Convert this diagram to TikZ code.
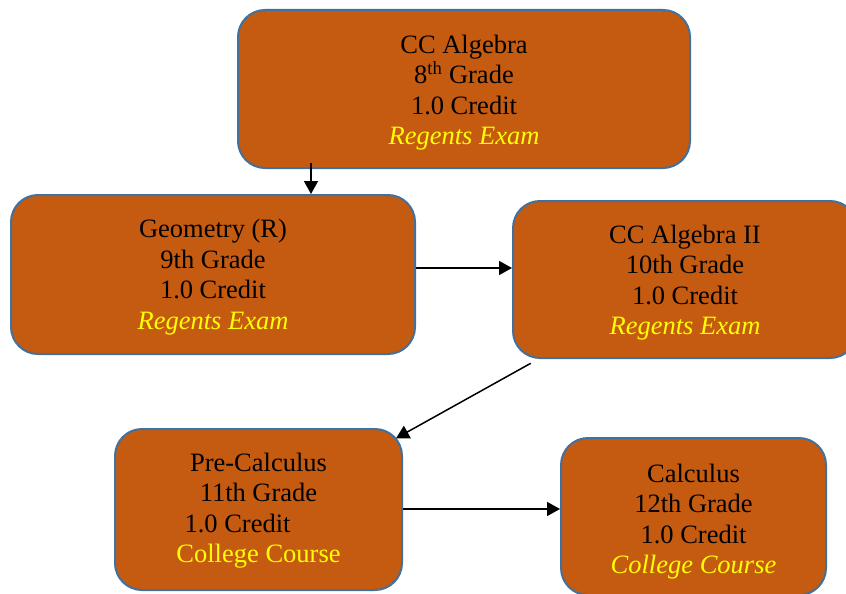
\documentclass[tikz,border=0pt]{standalone}
\usepackage{fontspec}
\setmainfont{Liberation Serif}
\usetikzlibrary{arrows.meta,calc}
\definecolor{boxfill}{HTML}{C55A11}
\definecolor{boxline}{HTML}{41719C}
\definecolor{examyellow}{HTML}{FFFF00}
\begin{document}
\begin{tikzpicture}[x=1pt,y=-1pt,
  course/.style={draw=boxline, line width=2pt, fill=boxfill, rounded corners=27pt, inner sep=0pt},
  coursetext/.style={align=center, font=\fontsize{26.5}{30.5}\selectfont, text=black, inner sep=0pt},
  arr/.style={-{Triangle[length=13pt,width=14pt]}, line width=1.5pt, black}]
\useasboundingbox (0,0) rectangle (846,594);
\clip (0,0) rectangle (846,594);
% boxes
\node[course, minimum width=452pt, minimum height=158pt] (b1) at (464,89) {};
\node[course, minimum width=404pt, minimum height=159pt] (b2) at (213,274.5) {};
\node[course, minimum width=344pt, minimum height=157pt] (b3) at (685,279.5) {};
\node[course, minimum width=287pt, minimum height=161pt] (b4) at (258.5,509.5) {};
\node[course, minimum width=265pt, minimum height=157pt] (b5) at (693.5,516.5) {};
% texts
\node[coursetext] (t1) at ($(b1.center)+(0,3.4)$) {CC Algebra\\8\textsuperscript{th} Grade\\1.0 Credit\\\textcolor{examyellow}{\itshape Regents Exam}};
\node[coursetext] (t2) at ($(b2.center)+(0,2.7)$) {Geometry (R)\\9th Grade\\1.0 Credit\\\textcolor{examyellow}{\itshape Regents Exam}};
\node[coursetext] (t3) at ($(b3.center)+(0,3.2)$) {CC Algebra II\\10th Grade\\1.0 Credit\\\textcolor{examyellow}{\itshape Regents Exam}};
\node[coursetext] (t4) at ($(b4.center)+(0,1.4)$) {Pre-Calculus\\11th Grade\\\mbox{1.0 Credit\hspace{42pt}}\\\textcolor{examyellow}{College Course}};
\node[coursetext] (t5) at ($(b5.center)+(0,4.9)$) {Calculus\\12th Grade\\1.0 Credit\\\textcolor{examyellow}{\itshape College Course}};
% connectors
\draw[arr] ($(b1.south)+(-153,-6)$) -- ($(b2.north)+(98,0)$);
\draw[arr] ($(b2.east)+(0,-6.5)$) -- ($(b3.west)+(0,-11.5)$);
\draw[arr] ($(b3.south west)+(18.7,4.3)$) -- ($(b4.north east)+(-7,10.3)$);
\draw[arr] ($(b4.east)+(0,-0.5)$) -- ($(b5.west)+(0,-7.5)$);
\end{tikzpicture}
\end{document}
